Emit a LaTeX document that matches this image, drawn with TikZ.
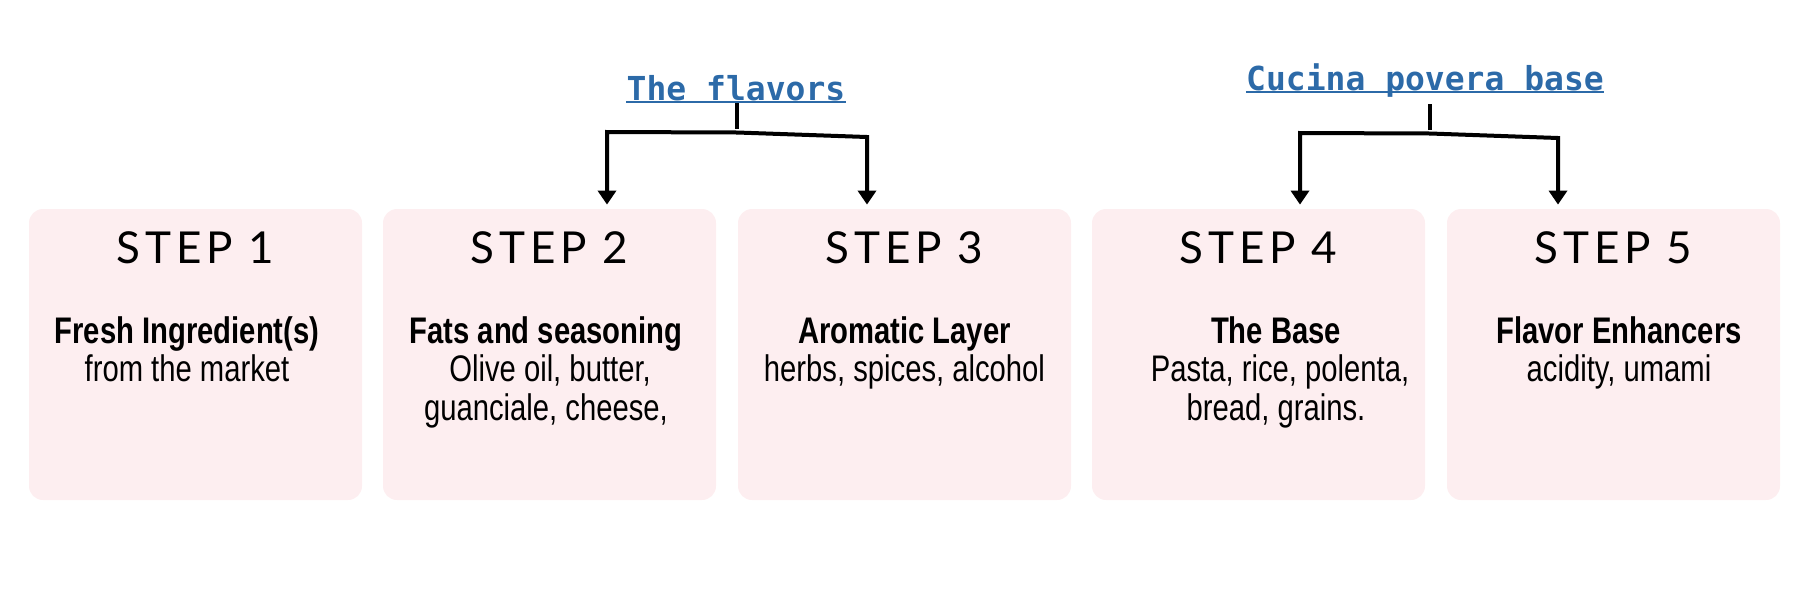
\documentclass[tikz,border=0pt]{standalone}
\usepackage{fontspec}
\usepackage{tikz}
\usetikzlibrary{arrows.meta}
\newfontfamily\stepfont[LetterSpace=11]{Lato}
\newfontfamily\bodyfont[FakeStretch=0.79]{Liberation Sans}
\newfontfamily\labelfont{DejaVu Sans Mono}
\definecolor{boxpink}{HTML}{FDEEF0}
\definecolor{linkblue}{HTML}{2C6AA8}
\tikzset{>={Triangle[width=9pt,length=7pt]}}
\tikzset{
  stepbox/.style={fill=boxpink, rounded corners=7pt, minimum width=166.5pt, minimum height=145.5pt, inner sep=0pt},
  steptitle/.style={inner sep=0pt, font=\stepfont\fontsize{22}{24}\selectfont},
  stepbody/.style={inner sep=0pt, align=center, font=\bodyfont\fontsize{18.5}{19.25}\selectfont},
  toplabel/.style={inner sep=0pt, text=linkblue, font=\labelfont\bfseries\fontsize{16.5}{18}\selectfont},
  underlined/.style={linkblue, line width=1pt},
  bracket/.style={line width=2pt, line join=miter, shorten >=2pt}
}

\begin{document}
\begin{tikzpicture}[x=0.5pt, y=-0.5pt]
            \useasboundingbox (0,0) rectangle (1800,600);

            % the five steps
            \node[stepbox] (box1) at (195.5,354.5) {};
            \node[stepbox] (box2) at (549.5,354.5) {};
            \node[stepbox] (box3) at (904.5,354.5) {};
            \node[stepbox] (box4) at (1258.5,354.5) {};
            \node[stepbox] (box5) at (1613.5,354.5) {};

            \node[steptitle, anchor=base] (head1) at (195.5,263) {STEP 1};
            \node[steptitle, anchor=base] (head2) at (549.5,263) {STEP 2};
            \node[steptitle, anchor=base] (head3) at (904.5,263) {STEP 3};
            \node[steptitle, anchor=base] (head4) at (1258.5,263) {STEP 4};
            \node[steptitle, anchor=base] (head5) at (1613.5,263) {STEP 5};

            % base = last line
            \node[stepbody, anchor=base] (body1) at (187,381.5) {\textbf{Fresh Ingredient(s)}\\from the market};
            \node[stepbody, anchor=base] (body2) at (546,420) {\textbf{Fats and seasoning}\\\ Olive oil, butter,\\guanciale, cheese,};
            \node[stepbody, anchor=base] (body3) at (904.5,381.5) {\textbf{Aromatic Layer}\\herbs, spices, alcohol};
            \node[stepbody, anchor=base] (body4) at (1276,420) {\textbf{The Base}\\\ Pasta, rice, polenta,\\bread, grains.};
            \node[stepbody, anchor=base] (body5) at (1619,381.5) {\textbf{Flavor Enhancers}\\acidity, umami};

            % the two groups
            \node[toplabel, anchor=base] (flav) at (736,100) {The flavors};
            \node[toplabel, anchor=base] (cucina) at (1425,90) {Cucina povera base};
            \draw[underlined] ([yshift=-1pt]flav.base west) -- ([yshift=-1pt]flav.base east);
            \draw[underlined] ([yshift=-1pt]cucina.base west) -- ([yshift=-1pt]cucina.base east);

            \coordinate (flavjoin) at (737,132.5);
            \coordinate (flavleft) at (607,132);
            \coordinate (flavright) at (867,137);
            \draw[bracket] ([yshift=-1.5pt]flav.base -| flavjoin) -- (flavjoin);
            \draw[bracket, ->] (flavjoin) -- (flavleft) -- (flavleft |- box2.north);
            \draw[bracket, ->] (flavjoin) -- (flavright) -- (flavright |- box3.north);

            \coordinate (cucinajoin) at (1430,133.5);
            \coordinate (cucinaleft) at (1300,133);
            \coordinate (cucinaright) at (1558,138);
            \draw[bracket] ([yshift=-7pt]cucina.base -| cucinajoin) -- (cucinajoin);
            \draw[bracket, ->] (cucinajoin) -- (cucinaleft) -- (cucinaleft |- box4.north);
            \draw[bracket, ->] (cucinajoin) -- (cucinaright) -- (cucinaright |- box5.north);

        \end{tikzpicture}
\end{document}
